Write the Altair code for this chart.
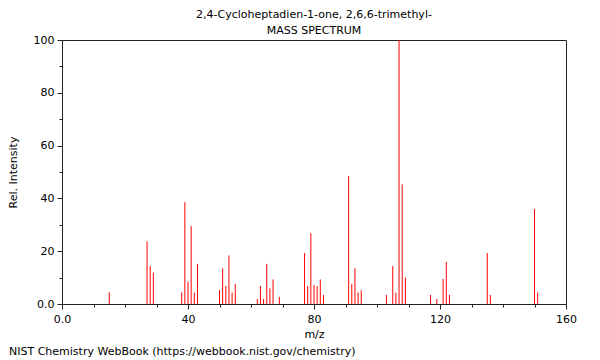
import altair as alt
import pandas as pd

mz = [15, 27, 28, 29, 38, 39, 40, 41, 42, 43, 50, 51, 52, 53, 54, 55,
      62, 63, 64, 65, 66, 67, 69, 77, 78, 79, 80, 81, 82, 83,
      91, 92, 93, 94, 95, 103, 105, 106, 107, 108, 109,
      117, 119, 121, 122, 123, 135, 136, 150, 151]
intensity = [4.4, 23.7, 14.4, 11.9, 4.4, 38.6, 8.5, 29.5, 4.3, 15.2,
             5.3, 13.5, 6.8, 18.4, 4.3, 7.6,
             1.9, 6.8, 1.9, 15.2, 5.9, 9.3, 2.7,
             19.3, 6.8, 26.8, 7.2, 6.8, 9.3, 3.4,
             48.5, 7.6, 13.5, 4.3, 5.2,
             3.4, 14.4, 4.3, 100, 45.3, 10.1,
             3.4, 1.9, 9.5, 15.9, 3.4,
             19.3, 3.4, 36.0, 4.4]
x_ticks = list(range(0, 161, 10))
y_ticks = list(range(0, 101, 10))
title_lines = ["2,4-Cycloheptadien-1-one, 2,6,6-trimethyl-", "MASS SPECTRUM"]
footer = "NIST Chemistry WebBook (https://webbook.nist.gov/chemistry)"

df = pd.DataFrame({"mz": mz, "intensity": intensity})
FONT = "DejaVu Sans"
AX = "#222222"

bars = alt.Chart(df).mark_rule(color="#ff0000", strokeWidth=1).encode(
    x=alt.X("mz:Q", scale=alt.Scale(domain=[0, 160], nice=False, zero=True),
            axis=alt.Axis(values=x_ticks, title="m/z", grid=False,
                          labelExpr="datum.value == 0 ? '0.0' : (datum.value % 40 == 0 ? datum.label : '')",
                          tickSize={"condition": {"test": "datum.value % 40 == 0", "value": 5}, "value": 3},
                          labelPadding=4, titlePadding=4, labelFlush=False)),
    y=alt.Y("intensity:Q", scale=alt.Scale(domain=[0, 100], nice=False),
            axis=alt.Axis(values=y_ticks, title="Rel. Intensity", grid=False,
                          labelExpr="datum.value == 0 ? '0.0' : (datum.value % 20 == 0 ? datum.label : '')",
                          tickSize={"condition": {"test": "datum.value % 20 == 0", "value": 5}, "value": 3},
                          labelPadding=3, titlePadding=15, labelFlush=False)),
    y2=alt.datum(0),
)

foot = alt.Chart(pd.DataFrame({"t": [footer]})).mark_text(
    align="left", baseline="middle", font=FONT, fontSize=11, color="#000"
).encode(text="t:N", x=alt.value(-53), y=alt.value(312))

chart = alt.layer(bars, foot).properties(
    width=504, height=264,
    autosize=alt.AutoSizeParams(type="none"),
    padding={"left": 54, "top": 32, "right": 26, "bottom": 56},
    title=alt.TitleParams(text=title_lines, font=FONT, fontSize=11, fontWeight="normal",
                          color="#000", anchor="middle", lineHeight=16, offset=-2),
).configure_view(stroke=AX, strokeWidth=1).configure_axis(
    labelFont=FONT, titleFont=FONT, labelFontSize=11, titleFontSize=11,
    titleFontWeight="normal", labelColor="#000", titleColor="#000",
    domainColor=AX, tickColor=AX,
)

chart.save("out.html", embed_options={"renderer": "svg", "actions": False})
